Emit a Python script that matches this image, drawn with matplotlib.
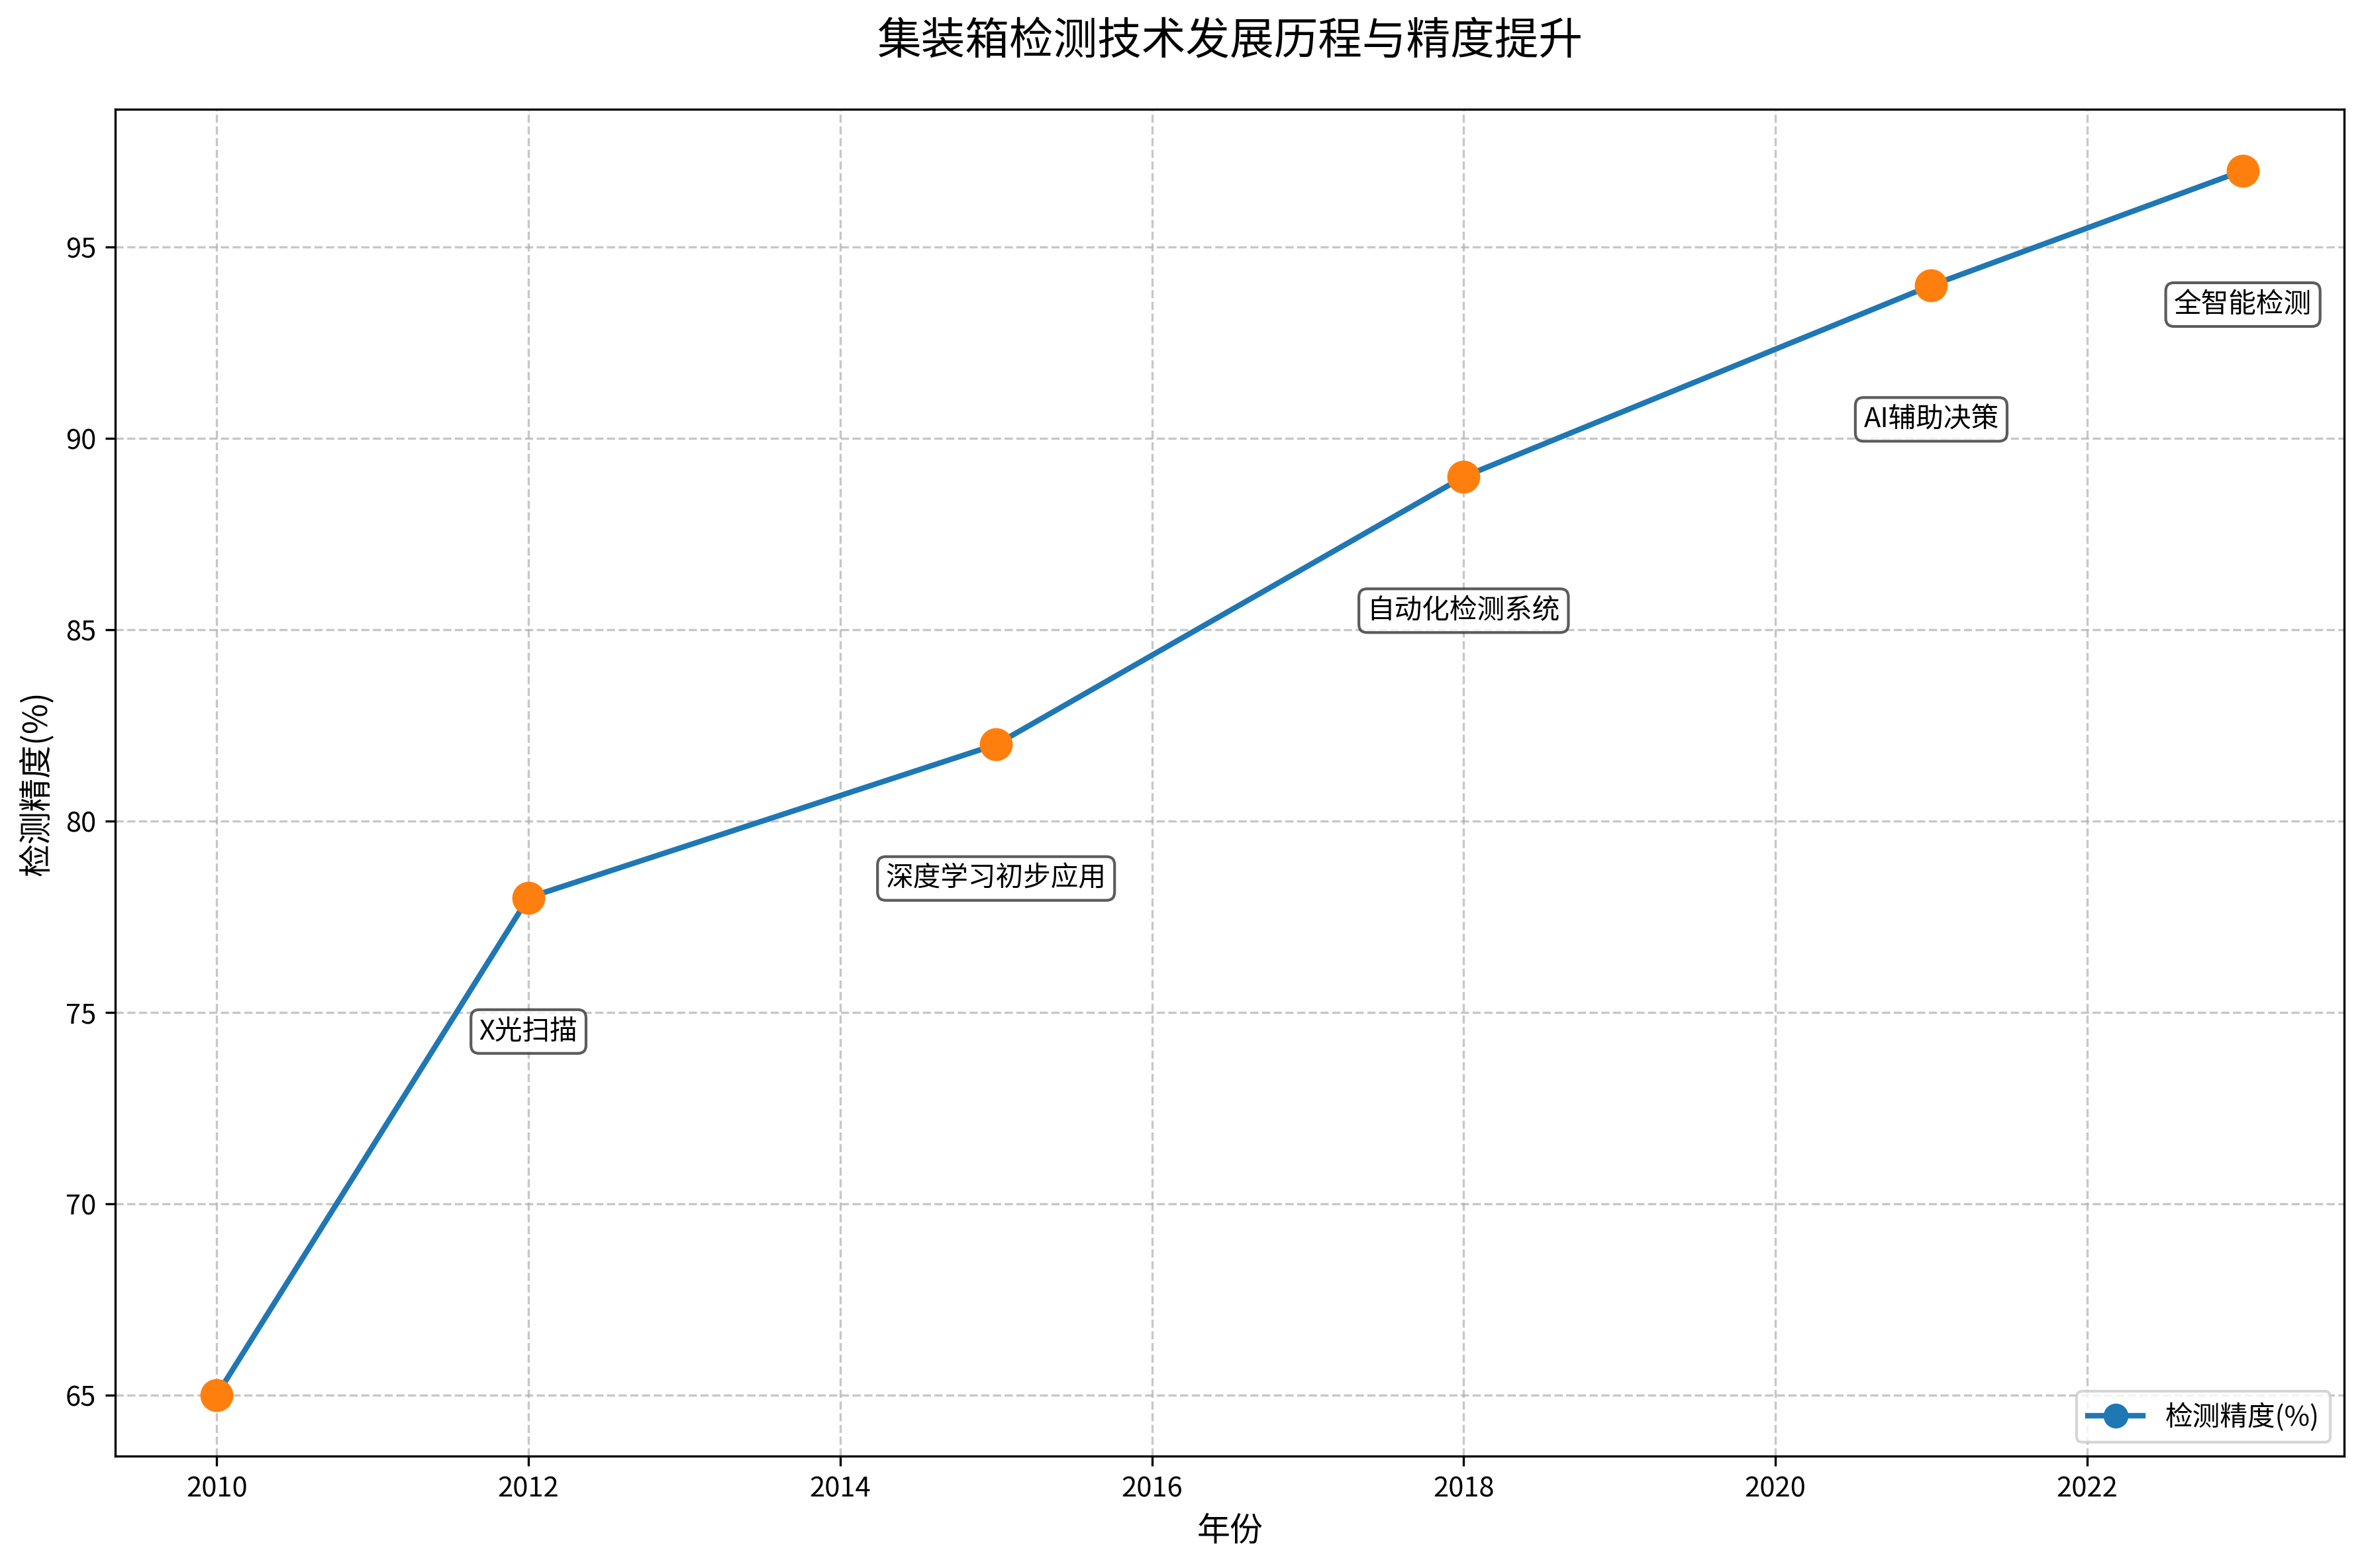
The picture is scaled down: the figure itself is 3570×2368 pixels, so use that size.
import matplotlib.pyplot as plt

plt.rcParams['font.family'] = ['Noto Sans CJK SC', 'DejaVu Sans']
plt.rcParams['axes.unicode_minus'] = False

years = [2010, 2012, 2015, 2018, 2021, 2023]
accuracy = [65, 78, 82, 89, 94, 97]
milestones = ['', 'X光扫描', '深度学习初步应用', '自动化检测系统', 'AI辅助决策', '全智能检测']

fig, ax = plt.subplots(figsize=(12, 8))

ax.plot(years, accuracy, marker='o', linewidth=2, markersize=8, color='#1f77b4', label='检测精度(%)')
ax.scatter(years, accuracy, s=120, color='#ff7f0e', zorder=5)

# milestone labels under each point
for x, y, txt in zip(years, accuracy, milestones):
    if txt:
        ax.annotate(txt, xy=(x, y), xytext=(x, y - 3.5), ha='center', va='center', fontsize=10,
                    bbox=dict(boxstyle='round,pad=0.3', fc='white', ec='#333333', alpha=0.8))

ax.set_title('集装箱检测技术发展历程与精度提升', fontsize=16, pad=20)
ax.set_xlabel('年份', fontsize=12)
ax.set_ylabel('检测精度(%)', fontsize=12)
ax.grid(True, linestyle='--', alpha=0.7)
ax.legend(loc='lower right')

plt.tight_layout()
plt.savefig('out.png', dpi=300, bbox_inches='tight')
